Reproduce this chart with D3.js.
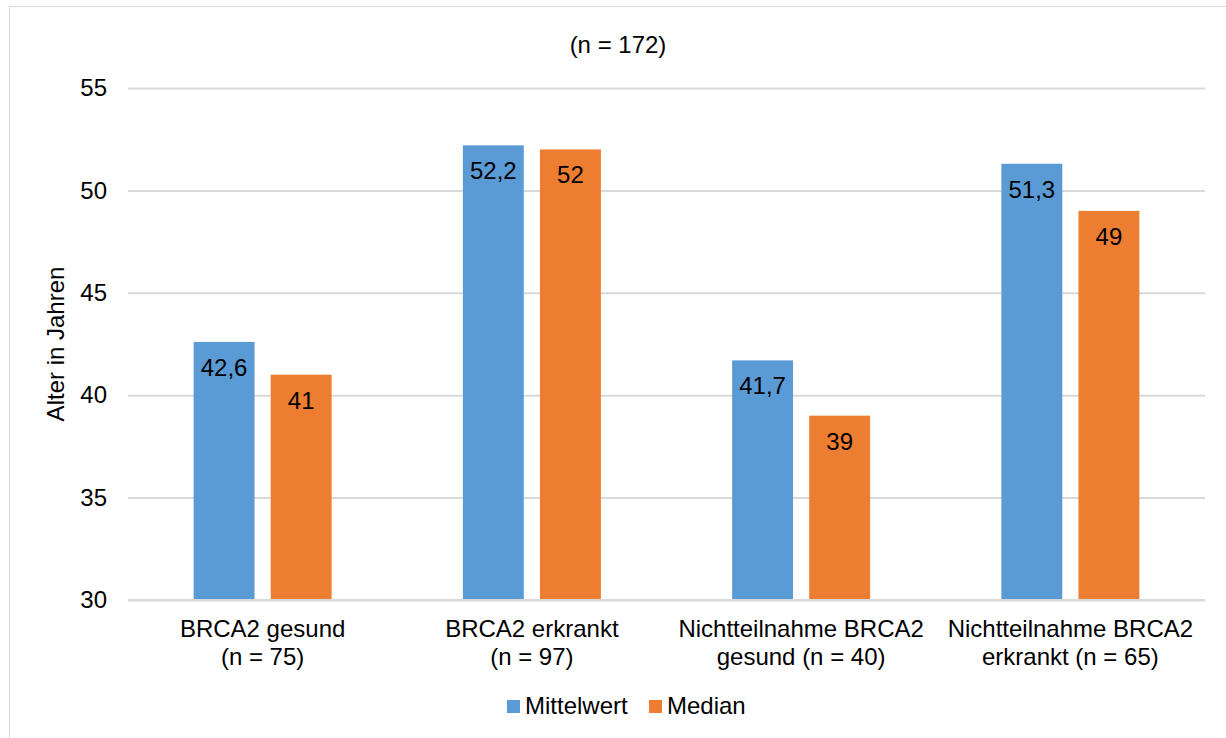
<!DOCTYPE html>
<html><head><meta charset="utf-8">
<script src="https://d3js.org/d3.v7.min.js"></script>
<style>body{margin:0;background:#fff;}svg{display:block;font-family:"Liberation Sans",Arial,sans-serif;}</style>
</head><body><svg id="c" width="1226" height="738"></svg>
<script>
const categories = [["BRCA2 gesund","(n = 75)"],["BRCA2 erkrankt","(n = 97)"],["Nichtteilnahme BRCA2","gesund (n = 40)"],["Nichtteilnahme BRCA2","erkrankt (n = 65)"]];
const seriesNames = ["Mittelwert","Median"];
const mittelwert = [42.6, 52.2, 41.7, 51.3];
const median = [41, 52, 39, 49];
const valueLabels = [["42,6","52,2","41,7","51,3"],["41","52","39","49"]];
const yTicks = [30,35,40,45,50,55];
const colors = ["#5B9BD5","#ED7D31"];
(function(){
const FS=24;
const svg = d3.select("#c");
svg.append("rect").attr("x",9.5).attr("y",6.5).attr("width",1240).attr("height",760).attr("fill","#fff").attr("stroke","#d9d9d9");

const pl=128,pr=1205,pt=88,pb=600;
const y = d3.scaleLinear().domain([30,55]).range([pb,pt]);
const x0 = d3.scaleBand().domain(d3.range(categories.length)).range([pl,pr]).paddingInner(0).paddingOuter(0);
const x1 = d3.scaleBand().domain([0,1]).range([0,138]).paddingInner(0.21);
const groupOffset = (x0.bandwidth()-138)/2;

const yAxis = d3.axisLeft(y).tickValues(yTicks).tickSize(-(pr-pl)).tickPadding(21);
const ga = svg.append("g").attr("transform",`translate(${pl},0)`).call(yAxis);
ga.select(".domain").remove();
ga.selectAll(".tick line").attr("stroke","#d9d9d9").attr("stroke-width",2);
ga.selectAll(".tick text").attr("font-size",FS).attr("fill","#000").attr("font-family","Liberation Sans, Arial, sans-serif");

const data=[mittelwert,median];
data.forEach((vals,s)=>{
  svg.append("g").selectAll("rect").data(vals).join("rect")
    .attr("x",(d,i)=>x0(i)+groupOffset+x1(s))
    .attr("y",d=>y(d)).attr("width",x1.bandwidth()).attr("height",d=>pb-y(d))
    .attr("fill",colors[s]);
  svg.append("g").selectAll("text").data(vals).join("text")
    .attr("x",(d,i)=>x0(i)+groupOffset+x1(s)+x1.bandwidth()/2)
    .attr("y",d=>y(d)+34).attr("text-anchor","middle").attr("font-size",FS).attr("fill","#000")
    .text((d,i)=>valueLabels[s][i]);
});
svg.append("line").attr("x1",pl).attr("x2",pr).attr("y1",pb).attr("y2",pb).attr("stroke","#d9d9d9").attr("stroke-width",2);

const cat = svg.append("g").selectAll("text").data(categories).join("text")
  .attr("x",(d,i)=>x0(i)+x0.bandwidth()/2).attr("y",637).attr("text-anchor","middle").attr("font-size",FS).attr("fill","#000");
cat.each(function(d){
  const t=d3.select(this), xx=t.attr("x");
  d.forEach((line,i)=>t.append("tspan").attr("x",xx).attr("dy",i?27.5:0).text(line));
});

svg.append("text").attr("x",618).attr("y",53).attr("text-anchor","middle").attr("font-size",FS).text("(n = 172)");
svg.append("text").attr("transform","translate(64,344) rotate(-90)").attr("text-anchor","middle").attr("font-size",FS).text("Alter in Jahren");

const lg = svg.append("g");
const lx=[507,649];
seriesNames.forEach((n,i)=>{
  lg.append("rect").attr("x",lx[i]).attr("y",700).attr("width",13).attr("height",13).attr("fill",colors[i]);
  lg.append("text").attr("x",lx[i]+18).attr("y",714).attr("font-size",FS).text(n);
});
})();
</script></body></html>
